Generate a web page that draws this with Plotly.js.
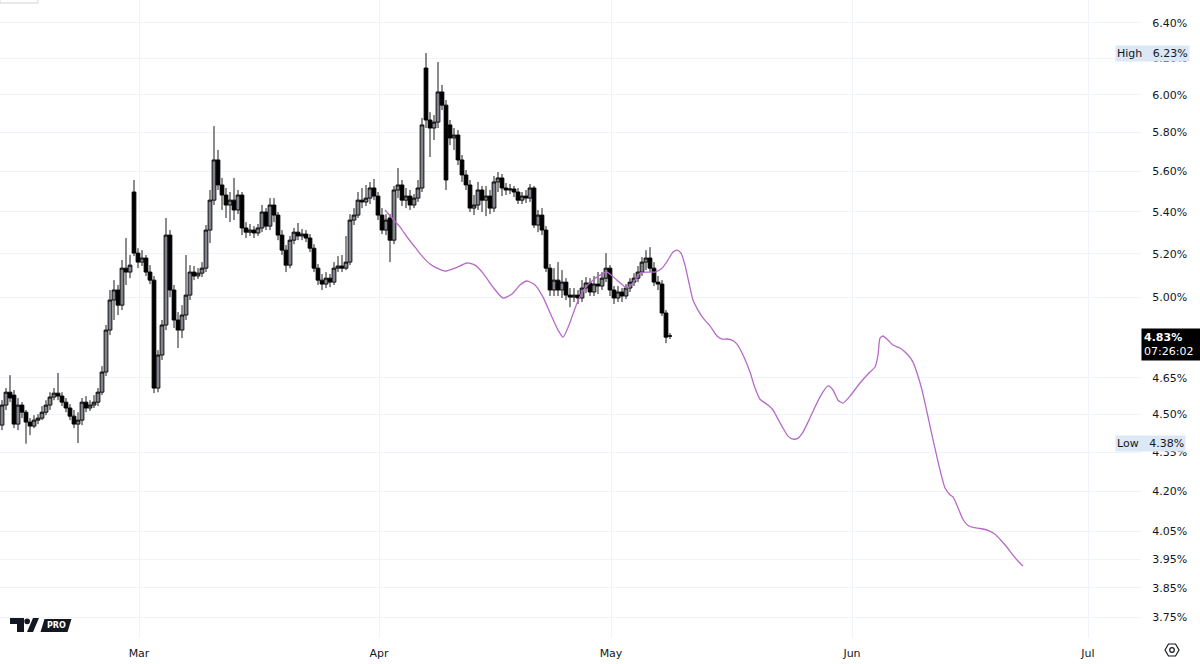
<!DOCTYPE html>
<html><head><meta charset="utf-8">
<script src="https://cdn.plot.ly/plotly-3.0.1.min.js"></script>
<style>html,body{margin:0;padding:0;background:#fff}#chart{width:1200px;height:664px}</style>
</head><body><div id="chart"></div>
<script>
// ---- OHLC candles (percent) ----
const opens = [
4.457,4.538,4.591,4.579,4.461,4.538,4.509,4.469,4.453,4.477,
4.485,4.509,4.538,4.571,4.587,4.575,4.550,4.526,4.493,4.461,
4.477,4.550,4.526,4.538,4.550,4.591,4.675,4.855,4.988,5.033,
4.965,5.133,5.115,5.497,5.203,5.161,5.180,5.115,5.078,4.608,
4.747,4.877,5.288,5.033,4.899,4.855,4.921,5.010,5.115,5.097,
5.110,5.133,5.312,5.457,5.658,5.532,5.482,5.433,5.457,5.409,
5.482,5.322,5.302,5.312,5.298,5.322,5.399,5.331,5.433,5.384,
5.288,5.217,5.147,5.264,5.302,5.284,5.293,5.274,5.226,5.133,
5.078,5.060,5.087,5.069,5.133,5.143,5.133,5.161,5.360,5.384,
5.457,5.448,5.467,5.517,5.477,5.384,5.312,5.370,5.264,5.507,
5.532,5.457,5.477,5.433,5.467,5.517,6.146,5.865,5.823,5.854,
6.015,5.944,5.839,5.771,5.786,5.658,5.582,5.532,5.418,5.433,
5.507,5.457,5.477,5.418,5.547,5.567,5.517,5.507,5.512,5.497,
5.457,5.477,5.467,5.517,5.336,5.384,5.312,5.133,5.033,5.078,
5.033,5.069,5.010,5.001,5.010,4.997,5.042,5.065,5.024,5.060,
5.051,5.087,5.133,5.033,4.997,5.024,5.006,5.042,5.069,5.087,
5.115,5.161,5.180,5.133,5.069,5.060,4.930,4.829];
const highs = [
4.558,4.608,4.662,4.600,4.567,4.550,4.518,4.485,4.497,4.501,
4.534,4.558,4.591,4.608,4.671,4.591,4.567,4.542,4.518,4.509,
4.567,4.575,4.558,4.579,4.608,4.700,4.877,5.033,5.078,5.056,
5.171,5.274,5.194,5.557,5.226,5.217,5.194,5.147,5.097,4.768,
4.899,5.370,5.312,5.056,4.934,4.965,5.194,5.147,5.143,5.133,
5.161,5.336,5.507,5.833,5.709,5.567,5.517,5.497,5.567,5.507,
5.497,5.350,5.341,5.331,5.341,5.433,5.418,5.467,5.467,5.399,
5.312,5.241,5.284,5.322,5.346,5.317,5.312,5.293,5.245,5.152,
5.106,5.115,5.106,5.161,5.189,5.194,5.284,5.389,5.418,5.497,
5.517,5.532,5.547,5.562,5.497,5.418,5.389,5.389,5.527,5.617,
5.557,5.517,5.507,5.487,5.557,5.876,6.229,5.907,5.891,6.179,
6.053,5.971,5.865,5.823,5.812,5.683,5.607,5.557,5.482,5.547,
5.527,5.527,5.507,5.577,5.597,5.587,5.542,5.537,5.527,5.517,
5.497,5.507,5.537,5.527,5.409,5.418,5.331,5.152,5.133,5.161,
5.124,5.087,5.042,5.042,5.033,5.078,5.092,5.087,5.097,5.115,
5.115,5.203,5.147,5.051,5.051,5.042,5.060,5.087,5.110,5.143,
5.184,5.217,5.231,5.161,5.097,5.078,4.943,4.842];
const lows = [
4.437,4.518,4.550,4.445,4.437,4.485,4.383,4.417,4.445,4.461,
4.477,4.497,4.518,4.558,4.558,4.534,4.509,4.477,4.445,4.386,
4.457,4.509,4.514,4.526,4.534,4.579,4.658,4.833,4.899,4.921,
4.943,5.056,5.087,5.189,5.133,5.143,5.097,5.060,4.587,4.591,
4.726,4.855,5.001,4.864,4.777,4.820,4.899,4.988,5.078,5.083,
5.092,5.115,5.250,5.433,5.507,5.409,5.370,5.350,5.360,5.389,
5.288,5.274,5.284,5.274,5.284,5.302,5.312,5.312,5.350,5.264,
5.194,5.115,5.133,5.245,5.264,5.264,5.255,5.208,5.115,5.056,
5.033,5.042,5.046,5.056,5.115,5.115,5.124,5.147,5.336,5.370,
5.418,5.428,5.438,5.457,5.360,5.293,5.288,5.161,5.245,5.467,
5.428,5.418,5.409,5.418,5.448,5.497,5.823,5.673,5.760,5.823,
5.918,5.507,5.734,5.709,5.632,5.547,5.507,5.399,5.384,5.409,
5.399,5.379,5.389,5.399,5.497,5.477,5.482,5.487,5.472,5.438,
5.438,5.443,5.448,5.322,5.302,5.288,5.115,5.006,5.006,5.006,
4.997,4.988,4.956,4.979,4.970,4.979,5.019,5.006,5.006,5.015,
5.033,5.069,5.006,4.970,4.979,4.979,4.992,5.024,5.051,5.069,
5.097,5.124,5.115,5.051,5.033,4.917,4.798,4.816];
const closes = [
4.538,4.591,4.567,4.461,4.538,4.509,4.469,4.453,4.477,4.485,
4.509,4.538,4.571,4.587,4.575,4.550,4.526,4.493,4.461,4.477,
4.550,4.526,4.538,4.550,4.591,4.675,4.855,4.988,5.033,4.965,
5.133,5.115,5.147,5.203,5.161,5.180,5.115,5.078,4.608,4.747,
4.877,5.288,5.033,4.899,4.855,4.921,5.010,5.115,5.097,5.110,
5.133,5.312,5.457,5.658,5.532,5.482,5.433,5.457,5.409,5.482,
5.322,5.302,5.312,5.298,5.322,5.399,5.331,5.433,5.384,5.288,
5.217,5.147,5.264,5.302,5.284,5.293,5.274,5.226,5.133,5.078,
5.060,5.087,5.069,5.133,5.143,5.133,5.161,5.360,5.384,5.457,
5.448,5.467,5.517,5.477,5.384,5.312,5.360,5.264,5.507,5.532,
5.457,5.477,5.433,5.467,5.517,5.839,5.865,5.823,5.854,6.015,
5.944,5.557,5.771,5.786,5.658,5.582,5.532,5.418,5.433,5.507,
5.457,5.477,5.418,5.547,5.567,5.517,5.507,5.512,5.497,5.457,
5.477,5.467,5.517,5.336,5.384,5.312,5.133,5.033,5.078,5.033,
5.069,5.010,5.001,5.010,4.997,5.042,5.065,5.024,5.060,5.051,
5.087,5.133,5.033,4.997,5.024,5.006,5.042,5.069,5.087,5.115,
5.161,5.180,5.133,5.069,5.060,4.930,4.824,4.829];

// ---- projection path (purple), x in bar units ----
const projX = [95.75,97.5,99.5,101.25,103.25,105.25,107,108.75,110.75,113.25,
116.25,118.25,120.25,122.75,125.25,127.5,129.5,131.25,133.25,135.25,
137.25,139,140.25,141.75,143.75,145.75,147.75,149.5,151.25,153.75,
156.25,157.75,159.5,161.25,163.25,165,166.5,167.75,168.75,169.75,
170.75,171.75,172.75,174,175.25,177,178.75,180,181.25,182.5,
183.75,185.25,187,188.25,189.5,191.5,192.75,193.75,195.25,196.5,
197.75,199,200.25,201.75,203.25,204.75,206.5,207.75,209,210.25,
212,214.5,216.5,218.25,219,219.5,220.25,221.5,222.75,224.5,
226.5,227.75,228.75,230,231.25,232.5,233.75,234.75,235.75,237,
237.75,239,240.25,241.5,242.75,244.5,246.5,248.25,249.5,251.25,
252.75,254,255.25];
const projY = [5.409,5.370,5.327,5.279,5.231,5.184,5.152,5.133,5.119,5.133,
5.157,5.147,5.110,5.046,4.997,5.015,5.056,5.074,5.056,5.001,
4.921,4.855,4.824,4.877,4.974,5.042,5.078,5.101,5.115,5.078,
5.042,5.065,5.110,5.115,5.115,5.133,5.171,5.208,5.217,5.203,
5.147,5.065,4.988,4.943,4.908,4.873,4.829,4.816,4.816,4.811,
4.794,4.747,4.675,4.608,4.562,4.538,4.518,4.489,4.445,4.413,
4.401,4.405,4.429,4.477,4.530,4.579,4.617,4.600,4.558,4.546,
4.575,4.629,4.667,4.696,4.747,4.820,4.829,4.811,4.790,4.777,
4.747,4.717,4.671,4.600,4.509,4.417,4.330,4.265,4.212,4.186,
4.178,4.138,4.094,4.072,4.065,4.061,4.054,4.040,4.022,3.993,
3.965,3.944,3.926];

// ---- axis ticks ----
const monthLabels = ['Mar','Apr','May','Jun','Jul'];
const monthTickPos = [34.25, 94.25, 152.25, 212.5, 271.5];
const priceTicks = [3.75,3.85,3.95,4.05,4.20,4.35,4.50,4.65,5.00,5.20,5.40,5.60,5.80,6.00,6.20,6.40];
const countdown = '07:26:02';

const barIdx = closes.map((_, i) => i);
const lastClose = closes[closes.length - 1];
const maxHigh = Math.max(...highs);
const minLow = Math.min(...lows);
const TXT = '#131722';

const traces = [
  {type:'candlestick', x:barIdx, open:opens, high:highs, low:lows, close:closes,
   increasing:{line:{color:'#000', width:0.9}, fillcolor:'#80848a'},
   decreasing:{line:{color:'#000', width:0.9}, fillcolor:'#000'},
   whiskerwidth:0, hoverinfo:'skip', showlegend:false},
  {type:'scatter', mode:'lines', x:projX, y:projY,
   line:{color:'#b66bc8', width:1.3, shape:'spline', smoothing:0.6},
   hoverinfo:'skip', showlegend:false}
];

const P = (x) => x / 1141, Q = (y) => (638 - y) / 638;
const shapes = [
  {type:'line', xref:'paper', x0:0, x1:1, yref:'y', y0:Math.log10(lastClose), y1:Math.log10(lastClose),
   line:{color:'#131722', width:1, dash:'dot'}},
  // TradingView logo
  {type:'path', xref:'paper', yref:'paper', fillcolor:'#131722', line:{width:0},
   path:`M${P(10)},${Q(618)} L${P(24)},${Q(618)} L${P(24)},${Q(632)} L${P(17)},${Q(632)} L${P(17)},${Q(624)} L${P(10)},${Q(624)} Z`},
  {type:'circle', xref:'paper', yref:'paper', fillcolor:'#131722', line:{width:0},
   x0:P(24.3), x1:P(30), y0:Q(624.2), y1:Q(618.5)},
  {type:'path', xref:'paper', yref:'paper', fillcolor:'#131722', line:{width:0},
   path:`M${P(27)},${Q(632)} L${P(33)},${Q(632)} L${P(39)},${Q(618)} L${P(33)},${Q(618)} Z`},
  {type:'path', xref:'paper', yref:'paper', fillcolor:'#131722', line:{width:0},
   path:`M${P(40.5)},${Q(632)} L${P(67.5)},${Q(632)} L${P(71.5)},${Q(619)} L${P(44.5)},${Q(619)} Z`},
  // settings icon
  {type:'path', xref:'paper', yref:'paper', line:{color:TXT, width:1.2},
   path:`M${P(1165)},${Q(650)} L${P(1168.5)},${Q(644)} L${P(1175.5)},${Q(644)} L${P(1179)},${Q(650)} L${P(1175.5)},${Q(656)} L${P(1168.5)},${Q(656)} Z`},
  {type:'circle', xref:'paper', yref:'paper', line:{color:TXT, width:1.2},
   x0:P(1169.7), x1:P(1174.3), y0:Q(652.3), y1:Q(647.7)},
  // top-left button edge
  {type:'rect', xref:'paper', yref:'paper', x0:0, x1:P(38), y0:Q(3), y1:Q(-6),
   line:{color:'#d1d4dc', width:1}, fillcolor:'#fff'}
];

const annotations = [
  {xref:'paper', yref:'y', x:1, y:Math.log10(lastClose), xanchor:'left', yanchor:'top', yshift:8,
   text:'<b>' + lastClose.toFixed(2) + '%</b><br>' + countdown, showarrow:false, align:'left',
   bgcolor:'#000', borderpad:2, width:55, font:{color:'#fff', size:11, family:'DejaVu Sans, sans-serif'}},
  {xref:'paper', yref:'y', x:1, y:Math.log10(maxHigh), xanchor:'left', yanchor:'middle', xshift:-26,
   text:'High&nbsp;&nbsp;&nbsp;' + maxHigh.toFixed(2) + '%', showarrow:false, align:'left',
   bgcolor:'#dce8f6', borderpad:1, font:{color:TXT, size:11, family:'DejaVu Sans, sans-serif'}},
  {xref:'paper', yref:'y', x:1, y:Math.log10(minLow), xanchor:'left', yanchor:'middle', xshift:-26,
   text:'Low&nbsp;&nbsp;&nbsp;' + minLow.toFixed(2) + '%', showarrow:false, align:'left',
   bgcolor:'#dce8f6', borderpad:1, font:{color:TXT, size:11, family:'DejaVu Sans, sans-serif'}},
  {xref:'paper', yref:'paper', x:P(56), y:Q(625.5), xanchor:'center', yanchor:'middle',
   text:'<b>PRO</b>', showarrow:false, font:{color:'#fff', size:8, family:'DejaVu Sans, sans-serif'}}
];

const layout = {
  width:1200, height:664,
  margin:{l:0, r:59, t:0, b:26, pad:0},
  paper_bgcolor:'#fff', plot_bgcolor:'#fff',
  showlegend:false, dragmode:false, boxgap:0.05, boxgroupgap:0,
  font:{family:'DejaVu Sans, sans-serif', size:11, color:TXT},
  xaxis:{type:'linear', range:[-0.5, 284.75], tickmode:'array', tickvals:monthTickPos, ticktext:monthLabels,
         showgrid:true, gridcolor:'#f0f3fa', gridwidth:1, zeroline:false, showline:false,
         ticks:'outside', ticklen:5, tickcolor:'rgba(0,0,0,0)', rangeslider:{visible:false},
         tickfont:{size:11, color:TXT}},
  yaxis:{type:'log', side:'right', range:[Math.log10(3.68), Math.log10(6.5338)],
         tickmode:'array', tickvals:priceTicks, ticktext:priceTicks.map(v => v.toFixed(2) + '%'),
         showgrid:true, gridcolor:'#f0f3fa', gridwidth:1, zeroline:false, showline:false,
         ticks:'outside', ticklen:8, tickcolor:'rgba(0,0,0,0)', tickfont:{size:11, color:TXT}},
  shapes:shapes, annotations:annotations
};

Plotly.newPlot('chart', traces, layout, {displayModeBar:false, staticPlot:true});
</script>
</body></html>
